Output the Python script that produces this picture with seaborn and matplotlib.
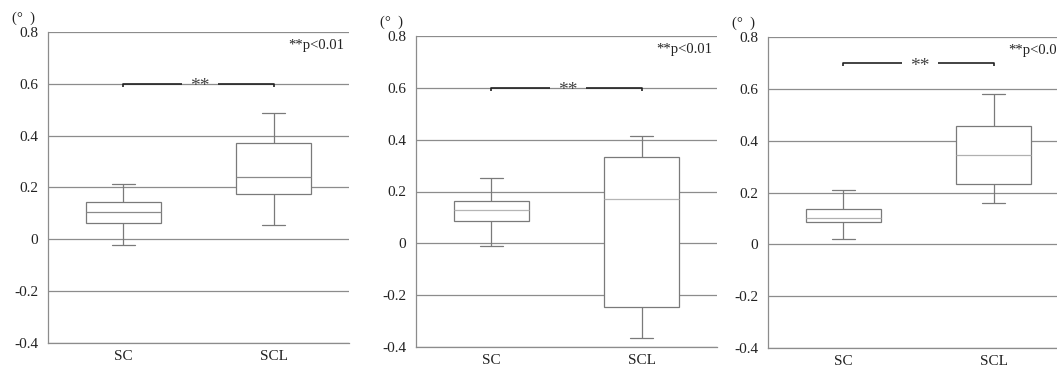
import numpy as np
import pandas as pd
import matplotlib
matplotlib.use("Agg")
import matplotlib.pyplot as plt
import seaborn as sns

# five-number summaries (min, q1, median, q3, max)
groups = ["SC", "SCL"]
p1_sc = [-0.023, 0.062, 0.105, 0.143, 0.212]
p1_scl = [0.057, 0.174, 0.239, 0.373, 0.489]
p2_sc = [-0.012, 0.086, 0.128, 0.165, 0.251]
p2_scl = [-0.367, -0.244, 0.171, 0.335, 0.414]
p3_sc = [0.021, 0.086, 0.103, 0.135, 0.209]
p3_scl = [0.159, 0.232, 0.346, 0.458, 0.579]
sig_level = [0.6, 0.6, 0.7]
yticks = [-0.4, -0.2, 0, 0.2, 0.4, 0.6, 0.8]
ytick_labels = ["-0.4", "-0.2", "0", "0.2", "0.4", "0.6", "0.8"]

panels = [(p1_sc, p1_scl), (p2_sc, p2_scl), (p3_sc, p3_scl)]
median_colors = ["#8a8a8a", "#b5b5b5", "#b0b0b0"]

sns.set_style("white")
plt.rcParams["font.family"] = ["Liberation Serif", "DejaVu Serif"]

W, H = 1057, 369
fig = plt.figure(figsize=(W / 100, H / 100), dpi=100)

# axes boxes in pixels: left, right, top, bottom
boxes = [(48, 349, 32, 343), (416, 717, 36, 347), (768, 1069, 37, 348)]

for i, ((sc, scl), (l, r, t, b)) in enumerate(zip(panels, boxes)):
    ax = fig.add_axes([l / W, 1 - b / H, (r - l) / W, (b - t) / H])
    df = pd.DataFrame({
        "group": ["SC"] * len(sc) + ["SCL"] * len(scl),
        "value": sc + scl,
    })
    sns.boxplot(data=df, x="group", y="value", order=groups, whis=(0, 100),
                width=0.5, color="white", linecolor="#7a7a7a", linewidth=0.9,
                medianprops=dict(color=median_colors[i], linewidth=0.9),
                capwidths=0.15, ax=ax)
    ax.set_xlim(-0.5, 1.5)
    ax.set_ylim(-0.4, 0.8)
    ax.set_yticks(yticks)
    ax.set_yticklabels(ytick_labels)
    ax.set_axisbelow(True)
    ax.yaxis.grid(True, color="#8c8c8c", linewidth=0.9)
    ax.xaxis.grid(False)
    for s in ["top", "right"]:
        ax.spines[s].set_visible(False)
    for s in ["left", "bottom"]:
        ax.spines[s].set_color("#8c8c8c")
        ax.spines[s].set_linewidth(0.9)
    ax.tick_params(axis="both", length=0, labelsize=11, colors="#222222")
    ax.tick_params(axis="y", pad=7)
    ax.tick_params(axis="x", pad=5)
    ax.set_xlabel("")
    ax.set_ylabel("")

    # significance bracket
    y = sig_level[i]
    tk = 0.013
    ax.plot([0, 0, 0.39], [y - tk, y, y], color="#222222", lw=1.2,
            solid_capstyle="butt")
    ax.plot([0.63, 1, 1], [y, y, y - tk], color="#222222", lw=1.2,
            solid_capstyle="butt")
    ax.text(0.51, y - 0.012, "**", ha="center", va="center", fontsize=14,
            color="#444444")

    ax.text(0.985, 0.955, "**p<0.01", transform=ax.transAxes, ha="right",
            va="center", fontsize=10.5, color="#222222")
    ax.text(-0.12, 1.045, "(°  )", transform=ax.transAxes, ha="left",
            va="center", fontsize=10.5, color="#222222")

fig.savefig("out.png", dpi=100)
